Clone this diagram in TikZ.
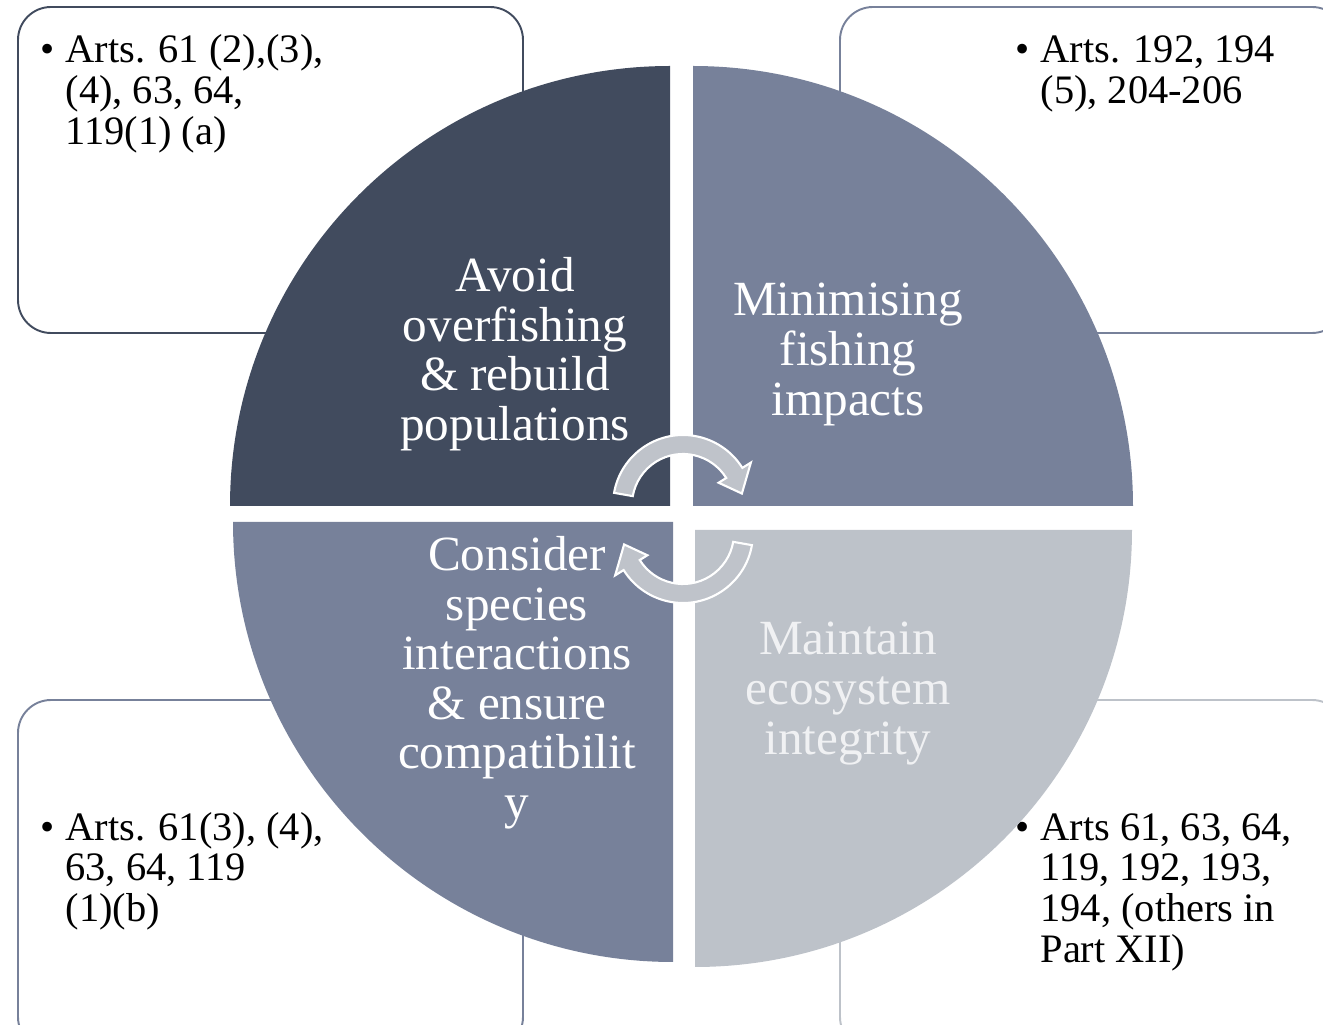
\documentclass[tikz,border=0pt]{standalone}
\usepackage{fontspec}
\setmainfont{Liberation Serif}
\usepackage{xcolor}
\usepackage{tikz}
\definecolor{slateDark}{RGB}{65,75,94}
\definecolor{slateMid}{RGB}{119,129,154}
\definecolor{slateLight}{RGB}{189,194,201}
\definecolor{arrowGray}{RGB}{191,195,202}
\definecolor{paleText}{RGB}{240,241,243}
\newcommand{\artlist}[1]{\begin{tabular}{@{}l@{\hspace{6.3pt}}l@{}}#1\end{tabular}}

\begin{document}
\begin{tikzpicture}[x=0.02cm,y=0.02cm,
    artbox/.style={line width=1.1pt,fill=white,rounded corners=0.66cm},
    arttext/.style={anchor=north west,inner sep=0pt,font=\fontsize{23}{23.3}\selectfont},
    quadtext/.style={anchor=north,inner sep=0pt,align=center,font=\fontsize{28}{28.2}\selectfont},
    cycarrow/.style={fill=arrowGray,draw=white,line width=1.2pt}]
  \clip (0,0) rectangle (1323,1025);
  % Article boxes
  \draw[artbox,draw=slateDark] (18,692) rectangle (523,1018);
  \draw[artbox,draw=slateMid] (840,692) rectangle (1345,1018);
  \draw[artbox,draw=slateMid] (18,-25) rectangle (523,325);
  \draw[artbox,draw=slateLight] (840,-25) rectangle (1345,325);
  \node[arttext] (artsTL) at (40,991) {\artlist{\textbullet & Arts. 61 (2),(3),\\ & (4), 63, 64,\\ & 119(1) (a)}};
  \node[arttext] (artsTR) at (1015,991) {\artlist{\textbullet & Arts. 192, 194\\ & (5), 204-206}};
  \node[arttext] (artsBL) at (40,214) {\artlist{\textbullet & Arts. 61(3), (4),\\ & 63, 64, 119\\ & (1)(b)}};
  \node[arttext] (artsBR) at (1015,214) {\artlist{\textbullet & Arts 61, 63, 64,\\ & 119, 192, 193,\\ & 194, (others in\\ & Part XII)}};
  % Quarter discs
  \fill[slateDark] (670,519) -- (230,519) arc[start angle=180,end angle=90,radius=440] -- cycle;
  \fill[slateMid] (693,519) -- (693,959) arc[start angle=90,end angle=0,radius=440] -- cycle;
  \fill[slateMid] (673,503) -- (233,503) arc[start angle=180,end angle=270,radius=440] -- cycle;
  \fill[slateLight] (695,495) -- (695,58) arc[start angle=270,end angle=360,radius=437] -- cycle;
  % Labels
  \node[quadtext,white] (avoid) at (515,768) {Avoid\\overfishing\\\& rebuild\\populations};
  \node[quadtext,white] (minimise) at (848,742) {Minimising\\fishing\\impacts};
  \node[quadtext,white] (consider) at (517,489) {Consider\\species\\interactions\\\& ensure\\compatibilit\\y};
  \node[quadtext,paleText] (maintain) at (848,403) {Maintain\\ecosystem\\integrity};
  % Cycle arrows
  \begin{scope}[shift={(683,520)}]
    \draw[cycarrow] (170:70) arc[start angle=170,end angle=32,radius=70] -- (32:80) -- (11:60)
      -- (32:42) -- (32:51) arc[start angle=32,end angle=170,radius=51] -- cycle;
  \end{scope}
  \begin{scope}[shift={(683,492)}]
    \draw[cycarrow] (350:70) arc[start angle=350,end angle=212,radius=70] -- (212:80) -- (191:60)
      -- (212:42) -- (212:51) arc[start angle=212,end angle=350,radius=51] -- cycle;
  \end{scope}
\end{tikzpicture}
\end{document}
